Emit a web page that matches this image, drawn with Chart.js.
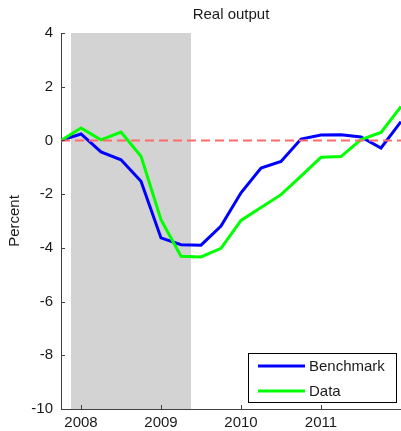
<!DOCTYPE html>
<html>
<head>
<meta charset="utf-8">
<title>Real output</title>
<script src="https://cdn.jsdelivr.net/npm/chart.js@4.4.1/dist/chart.umd.min.js"></script>
<style>
    html, body { margin: 0; padding: 0; background: #fff; }
    canvas { display: block; }
</style>
</head>
<body>
<canvas id="outputChart" width="401" height="431"></canvas>
<script>
// Chart data (quarterly, percent deviation)
const quarters = [2007.75, 2008.0, 2008.25, 2008.5, 2008.75, 2009.0, 2009.25, 2009.5, 2009.75,
                  2010.0, 2010.25, 2010.5, 2010.75, 2011.0, 2011.25, 2011.5, 2011.75, 2012.0];
const benchmark = [0, 0.24, -0.43, -0.72, -1.52, -3.63, -3.88, -3.9, -3.19,
                   -1.95, -1.03, -0.78, 0.05, 0.2, 0.21, 0.13, -0.28, 0.7];
const observed = [0, 0.46, 0.02, 0.31, -0.59, -2.95, -4.31, -4.34, -4.02,
                  -2.98, -2.5, -2.02, -1.33, -0.63, -0.6, 0.03, 0.3, 1.26];
const recession = [2007.875, 2009.375];
const xTicks = [2008, 2009, 2010, 2011];
const yTicks = [-10, -8, -6, -4, -2, 0, 2, 4];

const FONT = '"Liberation Sans", Arial, sans-serif';
const AXIS_COLOR = '#404040';
const TEXT_COLOR = '#1a1a1a';

/**
 * Zip x and y arrays into point objects
 */
function toPoints(xs, ys) {
    return xs.map((x, i) => ({ x: x, y: ys[i] }));
}

/**
 * Title, y label, inward tick marks and boxed legend
 */
const decorations = {
    id: 'decorations',
    afterDraw(chart) {
        const ctx = chart.ctx;
        const area = chart.chartArea;
        const xs = chart.scales.x;
        const ys = chart.scales.y;

        ctx.save();

        // inward ticks
        ctx.strokeStyle = AXIS_COLOR;
        ctx.lineWidth = 1;
        ctx.beginPath();
        yTicks.forEach(v => {
            const py = Math.round(ys.getPixelForValue(v)) + 0.5;
            ctx.moveTo(area.left, py);
            ctx.lineTo(area.left + 4, py);
        });
        xTicks.forEach(v => {
            const px = Math.round(xs.getPixelForValue(v)) + 0.5;
            ctx.moveTo(px, area.bottom);
            ctx.lineTo(px, area.bottom - 4);
        });
        ctx.stroke();

        // title
        ctx.fillStyle = TEXT_COLOR;
        ctx.font = '15px ' + FONT;
        ctx.textAlign = 'center';
        ctx.textBaseline = 'middle';
        ctx.fillText('Real output', (area.left + area.right) / 2, 15);

        // y axis title
        ctx.save();
        ctx.translate(15, (area.top + area.bottom) / 2);
        ctx.rotate(-Math.PI / 2);
        ctx.font = '15px ' + FONT;
        ctx.fillText('Percent', 0, 0);
        ctx.restore();

        // legend box
        const entries = chart.data.datasets.filter(d => d.showInLegend);
        const boxW = 149, boxH = 50;
        const bx = area.right - 4 - boxW;
        const by = area.bottom - 6 - boxH;
        ctx.fillStyle = '#fff';
        ctx.fillRect(bx, by, boxW, boxH);
        ctx.strokeStyle = '#000';
        ctx.lineWidth = 1;
        ctx.strokeRect(bx + 0.5, by + 0.5, boxW - 1, boxH - 1);

        ctx.font = '15px ' + FONT;
        ctx.textAlign = 'left';
        entries.forEach((d, i) => {
            const ly = by + 13 + i * 25;
            ctx.strokeStyle = d.borderColor;
            ctx.lineWidth = 3;
            ctx.beginPath();
            ctx.moveTo(bx + 10, ly);
            ctx.lineTo(bx + 57, ly);
            ctx.stroke();
            ctx.fillStyle = TEXT_COLOR;
            ctx.fillText(d.label, bx + 61, ly + 1);
        });

        ctx.restore();
    }
};

/**
 * Build the chart
 */
function initChart() {
    const ctx = document.getElementById('outputChart').getContext('2d');

    new Chart(ctx, {
        type: 'line',
        data: {
            datasets: [
                {
                    label: 'Recession',
                    data: toPoints(recession, [4, 4]),
                    borderWidth: 0,
                    borderColor: 'rgba(0,0,0,0)',
                    backgroundColor: '#d3d3d3',
                    pointRadius: 0,
                    fill: 'start',
                    order: 10
                },
                {
                    label: 'Zero',
                    data: toPoints([2007.75, 2012.0], [0, 0]),
                    borderColor: '#ff6b6b',
                    borderWidth: 2,
                    borderDash: [9, 5],
                    pointRadius: 0,
                    fill: false,
                    order: 0
                },
                {
                    label: 'Benchmark',
                    data: toPoints(quarters, benchmark),
                    borderColor: '#0000ff',
                    borderWidth: 3,
                    pointRadius: 0,
                    tension: 0,
                    fill: false,
                    showInLegend: true,
                    order: 2
                },
                {
                    label: 'Data',
                    data: toPoints(quarters, observed),
                    borderColor: '#00ff00',
                    borderWidth: 3,
                    pointRadius: 0,
                    tension: 0,
                    fill: false,
                    showInLegend: true,
                    order: 1
                }
            ]
        },
        options: {
            responsive: false,
            animation: false,
            layout: { padding: { top: 33, right: 0, left: 0, bottom: 0 } },
            plugins: {
                legend: { display: false },
                title: { display: false },
                tooltip: { enabled: false }
            },
            scales: {
                x: {
                    type: 'linear',
                    min: 2007.75,
                    max: 2012.0,
                    afterFit: scale => { scale.height = 22; },
                    afterBuildTicks: scale => {
                        scale.ticks = xTicks.map(v => ({ value: v }));
                    },
                    grid: { display: true, drawOnChartArea: false, drawTicks: false },
                    border: { display: true, color: AXIS_COLOR, width: 1 },
                    ticks: {
                        padding: 5,
                        maxRotation: 0,
                        color: TEXT_COLOR,
                        font: { family: FONT, size: 15 },
                        callback: v => String(v)
                    }
                },
                y: {
                    min: -10,
                    max: 4,
                    afterFit: scale => { scale.width = 61; },
                    afterBuildTicks: scale => {
                        scale.ticks = yTicks.map(v => ({ value: v }));
                    },
                    grid: { display: true, drawOnChartArea: false, drawTicks: false },
                    border: { display: true, color: AXIS_COLOR, width: 1 },
                    ticks: {
                        padding: 8,
                        color: TEXT_COLOR,
                        font: { family: FONT, size: 15 },
                        callback: v => String(v)
                    }
                }
            }
        },
        plugins: [decorations]
    });
}

document.addEventListener('DOMContentLoaded', initChart);
</script>
</body>
</html>
